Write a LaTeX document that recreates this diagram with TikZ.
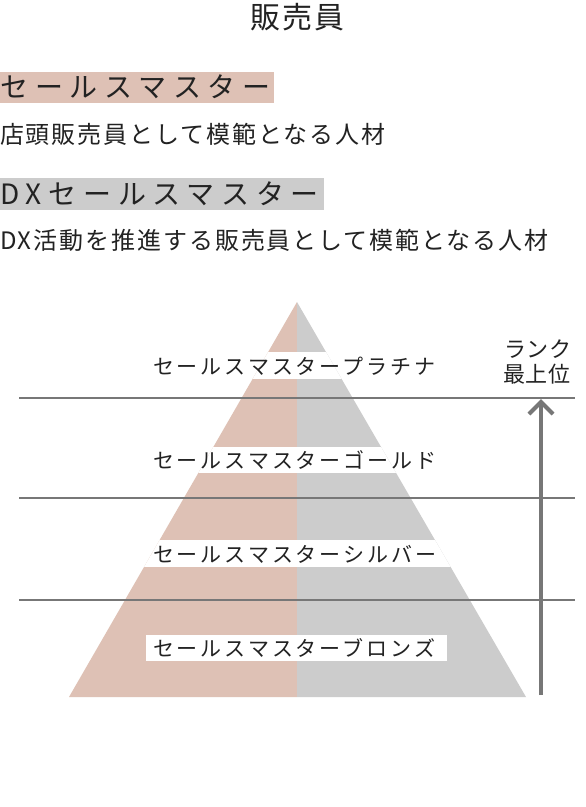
\documentclass[tikz,border=0pt]{standalone}
\usepackage{fontspec}
\setmainfont{Noto Sans CJK JP}
\newfontfamily\jp{Noto Sans CJK JP}
\newcommand{\fs}[2]{\fontsize{#1}{#1}\selectfont\addfontfeature{LetterSpace=#2}}
\definecolor{pinkc}{HTML}{DEC1B5}
\definecolor{grayc}{HTML}{CCCCCC}
\definecolor{linec}{HTML}{777777}
\definecolor{txt}{HTML}{222222}
\begin{document}
\begin{tikzpicture}[x=1pt,y=-1pt,
  txtnode/.style={inner sep=0pt, outer sep=0pt, text=txt, anchor=base west},
  sepline/.style={draw=linec, line width=2pt},
  rankarrow/.style={draw=linec, line width=4pt}]
\useasboundingbox[fill=white] (0,0) rectangle (586,807);
% title
\node[txtnode, font=\fs{30}{8}] (title) at (250,28) {販売員};
% bars
\fill[pinkc] (0,72) rectangle (274,103);
\fill[grayc] (0,178) rectangle (324,210);
\node[txtnode, font=\fs{28}{24}] (sm) at (0.5,97.5) {セールスマスター};
\node[txtnode, font=\fs{24}{8}] (smd) at (0,143) {店頭販売員として模範となる人材};
\node[txtnode, font=\fs{28}{24}] (dx) at (0.5,204.5) {DXセールスマスター};
\node[txtnode, font=\fs{24}{8}] (dxd) at (0,249.5) {DX活動を推進する販売員として模範となる人材};
% pyramid
\begin{scope}
\clip (297,302) -- (526,697) -- (69,697) -- cycle;
\fill[pinkc] (0,0) rectangle (297,807);
\fill[grayc] (297,0) rectangle (586,807);
\fill[white] (0,352) rectangle (586,379);
\fill[white] (0,447) rectangle (586,473);
\fill[white] (0,540) rectangle (586,567);
\end{scope}
\fill[white] (146,635) rectangle (447,661);
% separators
\coordinate (l1a) at (19,398); \coordinate (l1b) at (575,398);
\coordinate (l2a) at (19,498); \coordinate (l2b) at (575,498);
\coordinate (l3a) at (19,600); \coordinate (l3b) at (575,600);
\draw[sepline] (l1a) -- (l1b);
\draw[sepline] (l2a) -- (l2b);
\draw[sepline] (l3a) -- (l3b);
% labels
\node[txtnode, font=\fs{21}{14}] (plat) at (153,374) {セールスマスタープラチナ};
\node[txtnode, font=\fs{21}{14}] (gold) at (153,468) {セールスマスターゴールド};
\node[txtnode, font=\fs{21}{14}] (silv) at (153,562) {セールスマスターシルバー};
\node[txtnode, font=\fs{21}{14}] (bron) at (153,656) {セールスマスターブロンズ};
% rank
\node[txtnode, font=\fs{22}{4}] (rank) at (504,357) {ランク};
\node[txtnode, font=\fs{22}{4}] (top) at (503,382) {最上位};
\coordinate (abot) at (541,695);
\coordinate (atip) at (541,402);
\coordinate (awl) at (529,414);
\coordinate (awr) at (553,414);
\draw[rankarrow] (abot) -- (atip);
\draw[rankarrow, line join=miter] (awl) -- (atip) -- (awr);
\end{tikzpicture}
\end{document}
